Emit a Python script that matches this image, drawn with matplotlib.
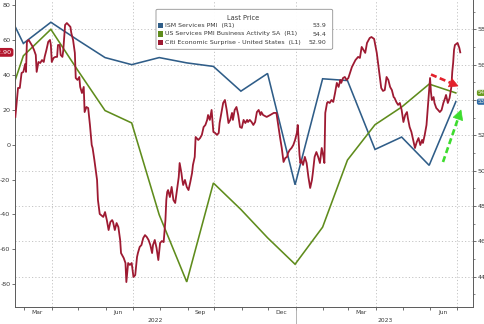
import numpy as np
import matplotlib
matplotlib.use("Agg")
import matplotlib.pyplot as plt
import matplotlib.dates as mdates
import matplotlib.transforms as mtransforms
from matplotlib.patches import FancyBboxPatch, Polygon, Rectangle

plt.rcParams['font.family'] = ['DejaVu Sans']
plt.rcParams['axes.unicode_minus'] = False

# ---------------------------------------------------------------- data
# Monthly PMI readings, stamped at each month end (Jan 2022 .. Jun 2023)
pmi_months = np.arange('2022-01', '2023-07', dtype='datetime64[M]')
ism_services = [60.1, 57.2, 58.4, 57.4, 56.4, 56.0, 56.4, 56.1, 55.9, 54.5,
                55.5, 49.2, 55.2, 55.1, 51.2, 51.9, 50.3, 53.9]
us_services_pmi = [52.3, 56.5, 58.0, 55.7, 53.4, 52.7, 47.5, 43.7, 49.3, 47.8,
                   46.2, 44.7, 46.8, 50.6, 52.6, 53.6, 54.9, 54.4]

# Citi Economic Surprise Index (US): days since 2022-03-01 and index level
citi_start = np.datetime64('2022-03-01')
citi_day = [-10, -8, -7, -5, -3, -1, 0, 1, 2, 3, 5, 7, 9, 11, 13, 14, 16, 18, 20, 22,
            23, 25, 27, 29, 30, 31, 33, 35, 37, 38, 40, 41, 43, 44, 46, 48, 50, 52, 53, 55,
            57, 58, 60, 62, 63, 65, 67, 68, 70, 72, 74, 76, 77, 79, 82, 83, 85, 89, 91, 93,
            95, 97, 99, 100, 102, 104, 106, 108, 109, 112, 114, 115, 117, 119, 121, 123, 125, 127, 128, 130,
            132, 134, 136, 138, 140, 142, 144, 145, 147, 149, 151, 153, 155, 157, 159, 160, 161, 162, 164, 166,
            168, 170, 172, 174, 175, 177, 178, 179, 181, 183, 185, 187, 189, 190, 192, 193, 196, 198, 200, 202,
            204, 206, 207, 209, 211, 213, 215, 217, 219, 220, 222, 224, 226, 228, 230, 232, 234, 235, 237, 239,
            241, 243, 245, 247, 249, 251, 252, 254, 256, 258, 260, 262, 264, 266, 267, 269, 273, 277, 281, 284,
            286, 288, 290, 292, 294, 296, 297, 299, 301, 303, 305, 307, 308, 309, 310, 311, 312, 314, 316, 318,
            320, 322, 324, 325, 327, 329, 331, 333, 335, 337, 338, 339, 341, 342, 344, 346, 348, 350, 352, 354,
            356, 357, 359, 361, 363, 365, 369, 373, 376, 378, 380, 382, 384, 386, 389, 391, 394, 397, 399, 402,
            404, 406, 408, 410, 412, 414, 416, 417, 419, 421, 423, 425, 427, 429, 431, 432, 434, 436, 438, 440,
            442, 444, 446, 448, 449, 451, 453, 454, 456, 457, 458, 459, 461, 462, 464, 466, 468, 470, 472, 474,
            475, 477, 479, 481, 482, 483, 484, 485, 488, 490, 491]
citi_val = [15.9, 27.3, 32.5, 32.5, 41.1, 41.7, 44.0, 46.2, 41.7, 58.9, 60.0, 58.3, 56.6, 54.3, 51.4, 41.7, 47.4, 46.8, 48.5, 47.4,
            50.3, 54.3, 58.9, 60.0, 57.1, 47.4, 49.7, 50.3, 50.3, 57.1, 57.1, 51.4, 50.3, 54.3, 68.6, 69.7, 68.6, 67.5, 64.0, 60.0,
            52.6, 38.2, 37.1, 38.8, 33.1, 29.6, 33.1, 18.7, 21.6, 21.0, 11.3, -0.2, -1.9, -8.8, -20.2, -31.7, -39.7, -41.4, -38.6, -43.2,
            -48.9, -44.3, -43.2, -44.3, -48.9, -44.9, -47.2, -54.6, -62.1, -64.9, -67.8, -78.7, -67.8, -68.9, -67.8, -75.8, -74.7, -64.4, -62.1, -58.6,
            -57.5, -53.5, -51.8, -52.9, -54.6, -57.5, -62.1, -57.5, -54.6, -59.2, -66.1, -56.3, -55.2, -55.8, -43.2, -31.7, -27.1, -26.0, -30.0, -24.2,
            -31.7, -33.4, -26.0, -18.5, -10.5, -16.2, -20.2, -23.1, -20.2, -24.2, -26.0, -21.4, -16.2, -11.6, -7.0, 4.4, 2.7, 3.8, 5.6, 10.1,
            11.3, 14.2, 17.0, 14.2, 19.9, 7.3, 6.7, 5.6, 6.7, 12.4, 18.2, 23.9, 25.6, 19.9, 12.4, 14.2, 18.2, 14.2, 19.9, 21.6,
            17.0, 10.1, 9.6, 14.2, 12.4, 14.2, 13.0, 14.2, 13.0, 11.3, 13.0, 18.7, 19.9, 17.0, 18.7, 17.0, 15.9, 17.0, 18.2, 18.2,
            11.3, 4.4, -1.9, -9.9, -7.6, -7.0, -4.8, -3.0, -1.9, -0.2, 2.7, 6.7, 11.3, 2.7, -5.9, -10.5, -8.8, -11.6, -7.0, -10.5,
            -18.5, -24.8, -20.2, -16.2, -7.0, -4.2, -7.0, -10.5, -1.9, -7.0, -10.5, 18.2, 23.9, 24.5, 23.9, 25.6, 24.5, 29.6, 35.4, 33.1,
            37.1, 35.4, 38.2, 38.8, 37.1, 38.2, 44.5, 48.5, 50.3, 49.7, 56.0, 54.3, 52.6, 58.3, 61.1, 61.7, 60.6, 52.6, 44.5, 32.5,
            30.8, 31.3, 38.8, 37.1, 33.1, 31.3, 27.3, 26.8, 24.5, 22.8, 23.9, 19.9, 13.0, 17.0, 18.7, 15.3, 10.1, 7.3, 2.7, -1.9,
            1.5, 3.8, -0.2, 2.7, 1.0, 5.6, 11.3, 18.2, 31.3, 38.2, 30.2, 25.6, 27.3, 23.9, 21.0, 19.9, 18.7, 19.9, 23.9, 26.8,
            28.5, 23.9, 26.8, 33.1, 41.7, 46.8, 54.3, 57.1, 58.3, 55.4, 52.9]

legend_rows = [
    ("ISM Services PMI  (R1)", "53.9"),
    ("US Services PMI Business Activity SA  (R1)", "54.4"),
    ("Citi Economic Surprise - United States  (L1)", "52.90"),
]

# ---------------------------------------------------------------- style
C_ISM = '#2f5d88'
C_PMI = '#5f8c1c'
C_CITI = '#9e1a32'
C_GRID = '#c4c4c4'
C_AXIS = '#5a5a5a'
C_TEXT = '#3a3a3a'

W, H = 485, 324
fig = plt.figure(figsize=(W / 100, H / 100), dpi=100)
fig.patch.set_facecolor('white')


def fpx(x, y):
    """Pixel position (from top-left) to figure fraction."""
    return x / W, 1 - y / H


ax = fig.add_axes([15 / W, (H - 307) / H, (473.3 - 15) / W, 307 / H])
ax2 = ax.twinx()
ax.set_zorder(2)
ax.patch.set_visible(False)
ax2.set_zorder(1)
ax2.patch.set_facecolor('white')

pmi_dates = (pmi_months + 1).astype('datetime64[D]') - np.timedelta64(1, 'D')
citi_dates = citi_start + np.array(citi_day).astype('timedelta64[D]')

ax2.plot(pmi_dates, ism_services, color=C_ISM, lw=1.15, solid_joinstyle='miter', zorder=3)
ax2.plot(pmi_dates, us_services_pmi, color=C_PMI, lw=1.15, solid_joinstyle='miter', zorder=3)
ax.plot(citi_dates, citi_val, color=C_CITI, lw=1.3, zorder=3)

x0 = mdates.date2num(citi_start)
ax.set_xlim(x0 - 10.4, x0 + 505.7)
ax.set_ylim(-93.0, 82.9)
ax2.set_ylim(42.28, 59.66)

# grid: right-axis levels and quarter boundaries
for lvl in range(44, 60, 2):
    ax2.axhline(lvl, color=C_GRID, lw=0.7, ls=(0, (1.2, 2.2)), zorder=1)
for q in ['2022-04-01', '2022-07-01', '2022-10-01', '2023-01-01', '2023-04-01', '2023-07-01']:
    ax2.axvline(mdates.date2num(np.datetime64(q)), color=C_GRID, lw=0.7,
                ls=(0, (1.2, 2.2)), zorder=1)

# spines
for a in (ax, ax2):
    a.spines['top'].set_visible(False)
    for s in ('left', 'right', 'bottom'):
        a.spines[s].set_color(C_AXIS)
        a.spines[s].set_linewidth(0.7)
ax.spines['right'].set_visible(False)
ax2.spines['left'].set_visible(False)
ax2.spines['bottom'].set_visible(False)

# y ticks (the 54 level sits under the last-value tags, so it carries no label)
ax.set_yticks(range(-80, 81, 20))
ax.set_yticklabels([str(v) for v in range(-80, 81, 20)])
ax.tick_params(axis='y', length=2.3, width=0.6, pad=1.0, labelsize=4.6,
               color=C_AXIS, labelcolor=C_TEXT)
right_ticks = list(range(44, 59, 2))
ax2.set_yticks(right_ticks)
ax2.set_yticklabels(['' if v == 54 else str(v) for v in right_ticks])
ax2.set_yticks(range(43, 60, 1), minor=True)
ax2.tick_params(axis='y', which='major', length=2.3, width=0.6, pad=1.0,
                labelsize=4.6, color=C_AXIS, labelcolor=C_TEXT)
ax2.tick_params(axis='y', which='minor', length=1.4, width=0.5, color=C_AXIS)

# x ticks: month starts as ticks, quarter-month names centred mid-month
ax.xaxis.set_major_locator(mdates.MonthLocator())
ax.xaxis.set_major_formatter(plt.NullFormatter())
ax.xaxis.set_minor_locator(mdates.MonthLocator(bymonth=[3, 6, 9, 12], bymonthday=15))
ax.xaxis.set_minor_formatter(mdates.DateFormatter('%b'))
ax.tick_params(axis='x', which='major', length=2.2, width=0.6, color=C_AXIS)
ax.tick_params(axis='x', which='minor', length=0, pad=2.2, labelsize=4.3,
               labelcolor=C_TEXT)
ax2.tick_params(axis='x', which='both', length=0, labelbottom=False)

# year labels centred on the visible span of each year, with a divider
xl = ax.get_xlim()
ny = mdates.date2num(np.datetime64('2023-01-01'))
trans_x = mtransforms.blended_transform_factory(ax.transData, ax.transAxes)
ax.plot([ny, ny], [0, -0.06], color='#a8a8a8', lw=0.6, transform=trans_x, clip_on=False)
ax.text((xl[0] + ny) / 2, -0.043, '2022', transform=trans_x, ha='center', va='center',
        fontsize=4.3, color=C_TEXT)
ax.text((ny + xl[1]) / 2, -0.043, '2023', transform=trans_x, ha='center', va='center',
        fontsize=4.3, color=C_TEXT)

# last-value tags on both axes
ax.annotate(f"{citi_val[-1]:.2f}", xy=(0, citi_val[-1]), xycoords=ax.get_yaxis_transform(),
            xytext=(-2.5, 0), textcoords='offset points', ha='right', va='center',
            fontsize=4.6, color='white', zorder=10, annotation_clip=False,
            bbox=dict(boxstyle='round,pad=0.3,rounding_size=0.4', fc='#b3162d', ec='none'))
for val, col in ((us_services_pmi[-1], '#6a9c22'), (ism_services[-1], '#2f6aa5')):
    ax2.annotate(f"{val:.1f}", xy=(1, val), xycoords=ax2.get_yaxis_transform(),
                 xytext=(3, 0), textcoords='offset points', ha='left', va='center',
                 fontsize=4.0, color='#f0f0e0', zorder=10, annotation_clip=False,
                 bbox=dict(boxstyle='round,pad=0.1,rounding_size=0.35', fc=col, ec='none'))

# legend panel
bx0, by0, bx1, by1 = 156, 9.3, 332.7, 49.3
lx, ly = fpx(bx0, by1)
lw_, lh_ = (bx1 - bx0) / W, (by1 - by0) / H
fig.patches.append(FancyBboxPatch((lx, ly), lw_, lh_, boxstyle='round,pad=0,rounding_size=0.004',
                                  transform=fig.transFigure, fc='white', ec='#8a8a8a', lw=0.6,
                                  alpha=0.95, zorder=5))
fig.text(*fpx(243.5, 18.3), 'Last Price', ha='center', va='center', fontsize=4.8,
         color=C_TEXT, zorder=6)
for i, ((label, value), col) in enumerate(zip(legend_rows, (C_ISM, C_PMI, C_CITI))):
    yy = 25.3 + i * 8.7
    sx, sy = fpx(158.3, yy + 2.6)
    fig.patches.append(Rectangle((sx, sy), 5 / W, 5.2 / H, transform=fig.transFigure,
                                 fc=col, ec='none', zorder=6))
    fig.text(*fpx(164.8, yy), label, ha='left', va='center', fontsize=4.5,
             color=C_TEXT, zorder=6)
    fig.text(*fpx(326.0, yy), value, ha='right', va='center', fontsize=4.5,
             color=C_TEXT, zorder=6)


# hand-drawn style dashed arrows
def dashed_arrow(tail, tip, color, head_len, head_w):
    tail = np.array(tail, float)
    tip = np.array(tip, float)
    u = (tip - tail) / np.linalg.norm(tip - tail)
    perp = np.array([-u[1], u[0]])
    base = tip - head_len * u
    xs, ys = zip(fpx(*tail), fpx(*base))
    fig.add_artist(plt.Line2D(xs, ys, transform=fig.transFigure, color=color, lw=1.9,
                              ls=(0, (2.3, 1.3)), solid_capstyle='butt', zorder=8))
    pts = [fpx(*tip), fpx(*(base + head_w * perp)), fpx(*(base - head_w * perp))]
    fig.add_artist(Polygon(pts, closed=True, transform=fig.transFigure, fc=color,
                           ec=color, lw=0.5, zorder=8))


dashed_arrow((431, 74.5), (458, 86), '#e3212b', 8.5, 4.5)
dashed_arrow((443, 162), (461, 110), '#3ddc2e', 9.5, 5.0)

fig.savefig('out.png', dpi=100, facecolor='white')
